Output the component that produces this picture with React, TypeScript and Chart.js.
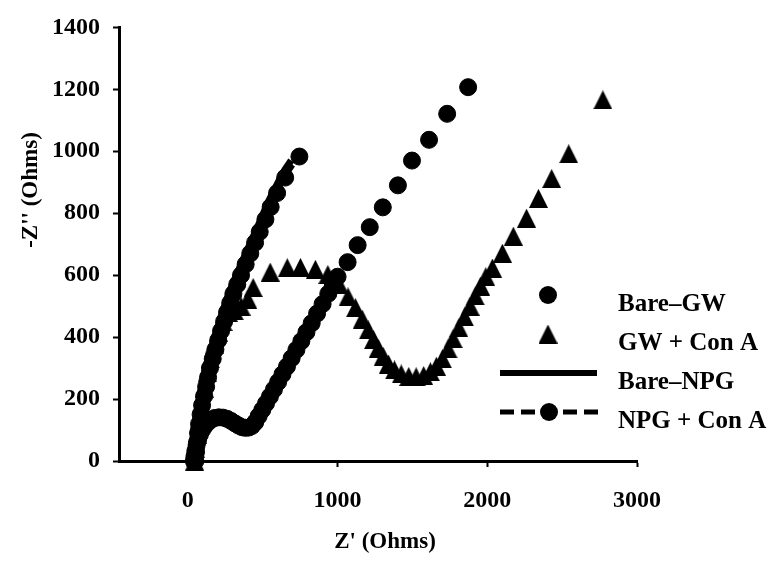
import React, { useEffect, useRef } from 'react';
import { Chart, registerables } from 'chart.js';

Chart.register(...registerables);

const FONT = '"Liberation Serif", "Times New Roman", serif';

const xTicks = [0, 1000, 2000, 3000];
const yTicks = [0, 200, 400, 600, 800, 1000, 1200, 1400];
const seriesNames = ['Bare–GW', 'GW + Con A', 'Bare–NPG', 'NPG + Con A'];
const xTitle = "Z' (Ohms)";
const yTitle = "-Z'' (Ohms)";

// Bare–GW: small arc, then the diffusion tail
const bareGwX = [40, 44, 50, 58, 68, 80, 95, 112, 132, 155, 180, 207, 235, 263, 290, 316, 340, 363, 385, 407, 428, 450, 473, 497, 522, 548, 575, 603, 632, 662, 693, 725, 758, 792, 827, 863, 900, 938, 968, 1000, 1067, 1134, 1215, 1302, 1403, 1497, 1611, 1732, 1872];
const bareGwY = [0, 15, 32, 50, 68, 85, 100, 113, 124, 133, 139, 141, 140, 136, 129, 121, 114, 109, 107, 108, 113, 125, 145, 165, 186, 208, 231, 255, 280, 305, 332, 359, 387, 416, 445, 476, 507, 540, 565, 595, 642, 697, 755, 819, 890, 970, 1037, 1121, 1207];

// GW + Con A: large arc and tail
const gwConAX = [45, 52, 62, 75, 90, 108, 128, 150, 175, 203, 235, 270, 310, 355, 400, 436, 550, 664, 752, 852, 935, 1010, 1070, 1120, 1165, 1205, 1240, 1272, 1305, 1340, 1380, 1425, 1475, 1525, 1575, 1620, 1660, 1700, 1738, 1772, 1810, 1848, 1885, 1920, 1955, 1990, 2034, 2101, 2174, 2262, 2342, 2430, 2544, 2772];
const gwConAY = [0, 40, 85, 135, 185, 235, 285, 330, 375, 415, 450, 480, 485, 500, 522, 560, 610, 624, 625, 619, 602, 570, 530, 495, 458, 423, 392, 364, 338, 313, 294, 281, 273, 272, 276, 288, 306, 330, 362, 395, 430, 465, 500, 533, 565, 595, 623, 671, 726, 784, 848, 912, 992, 1166];

// Bare–NPG: continuous line
const bareNpgX = [40, 44, 52, 68, 92, 118, 154, 192, 232, 274, 325, 378, 433, 488, 541, 598, 648, 690];
const bareNpgY = [0, 60, 120, 180, 240, 300, 360, 420, 480, 540, 600, 660, 720, 780, 840, 895, 940, 970];

// NPG + Con A: markers joined by a dashed line
const npgConAX = [50, 55, 61, 68, 75, 85, 95, 109, 122, 135, 148, 166, 184, 203, 222, 242, 262, 283, 304, 330, 355, 386, 417, 449, 480, 518, 553, 596, 650, 745];
const npgConAY = [0, 30, 60, 90, 120, 150, 180, 210, 240, 270, 300, 330, 360, 390, 420, 450, 480, 510, 540, 570, 600, 635, 670, 705, 740, 780, 820, 865, 915, 983];

const zip = (xs: number[], ys: number[]) => xs.map((x, i) => ({ x, y: ys[i] }));

function makeTriangle(w: number, h: number): HTMLCanvasElement {
  const c = document.createElement('canvas');
  c.width = w;
  c.height = h;
  const g = c.getContext('2d')!;
  g.fillStyle = '#000';
  g.beginPath();
  g.moveTo(w / 2, 0);
  g.lineTo(w, h);
  g.lineTo(0, h);
  g.closePath();
  g.fill();
  return c;
}

export default function App() {
  const ref = useRef<HTMLCanvasElement>(null);

  useEffect(() => {
    const canvas = ref.current;
    if (!canvas) return;
    const tri = makeTriangle(19, 19);

    const tickFont = { family: FONT, size: 24, weight: 'bold' as const };

    const annotations = {
      id: 'annotations',
      afterDraw(chart: Chart) {
        const ctx = chart.ctx;
        ctx.save();
        ctx.fillStyle = '#000';
        ctx.strokeStyle = '#000';

        // axis titles
        ctx.font = `bold 23px ${FONT}`;
        ctx.textAlign = 'center';
        ctx.textBaseline = 'middle';
        ctx.fillText(xTitle, 385, 542);
        ctx.save();
        ctx.translate(31, 190);
        ctx.rotate(-Math.PI / 2);
        ctx.fillText(yTitle, 0, 0);
        ctx.restore();

        // legend
        const step = 39;
        const markY = 295;
        const textY = 311;
        const cx = 548;
        for (let i = 0; i < seriesNames.length; i++) {
          const my = markY + i * step;
          if (i === 0) {
            ctx.beginPath();
            ctx.arc(cx, my, 9, 0, Math.PI * 2);
            ctx.fill();
          } else if (i === 1) {
            ctx.drawImage(tri, cx - tri.width / 2, my - tri.height / 2);
          } else if (i === 2) {
            ctx.lineWidth = 6;
            ctx.beginPath();
            ctx.moveTo(500, my);
            ctx.lineTo(597, my);
            ctx.stroke();
          } else {
            ctx.lineWidth = 5;
            ctx.setLineDash([14, 7]);
            ctx.beginPath();
            ctx.moveTo(500, my);
            ctx.lineTo(598, my);
            ctx.stroke();
            ctx.setLineDash([]);
            ctx.beginPath();
            ctx.arc(cx + 1, my, 9, 0, Math.PI * 2);
            ctx.fill();
          }
          ctx.font = `bold 25px ${FONT}`;
          ctx.textAlign = 'left';
          ctx.textBaseline = 'alphabetic';
          ctx.fillText(seriesNames[i], 618, textY + i * step);
        }
        ctx.restore();
      },
    };

    const chart = new Chart(canvas, {
      type: 'scatter',
      data: {
        datasets: [
          {
            label: seriesNames[0],
            data: zip(bareGwX, bareGwY),
            showLine: false,
            pointStyle: 'circle',
            pointRadius: 8.5,
            pointBorderWidth: 1,
            backgroundColor: '#000',
            borderColor: '#000',
            clip: false,
          },
          {
            label: seriesNames[1],
            data: zip(gwConAX, gwConAY),
            showLine: false,
            pointStyle: tri,
            pointRadius: 9.5,
            backgroundColor: '#000',
            borderColor: '#000',
            clip: false,
          },
          {
            label: seriesNames[2],
            data: zip(bareNpgX, bareNpgY),
            showLine: true,
            pointRadius: 0,
            borderWidth: 7,
            borderColor: '#000',
            backgroundColor: '#000',
            tension: 0.4,
            clip: false,
          },
          {
            label: seriesNames[3],
            data: zip(npgConAX, npgConAY),
            showLine: true,
            borderDash: [10, 6],
            borderWidth: 4,
            borderColor: '#000',
            backgroundColor: '#000',
            pointStyle: 'circle',
            pointRadius: 8.5,
            pointBorderWidth: 1,
            tension: 0.3,
            clip: false,
          },
        ],
      },
      options: {
        responsive: false,
        animation: false,
        events: [],
        layout: { padding: { left: 0, right: 140, top: 25, bottom: 0 } },
        plugins: {
          legend: { display: false },
          tooltip: { enabled: false },
          title: { display: false },
        },
        scales: {
          x: {
            type: 'linear',
            min: -460,
            max: 3000,
            afterBuildTicks: (s: any) => {
              s.ticks = xTicks.map((v) => ({ value: v }));
            },
            afterFit: (s: any) => {
              s.height = 102;
            },
            grid: { drawOnChartArea: false, drawTicks: true, tickLength: 6, tickWidth: 2, tickColor: '#000' },
            border: { display: true, color: '#000', width: 3 },
            ticks: {
              color: '#000',
              font: tickFont,
              padding: 19,
              maxRotation: 0,
              autoSkip: false,
              callback: (v: any) => String(v),
            },
          },
          y: {
            type: 'linear',
            min: 0,
            max: 1400,
            afterBuildTicks: (s: any) => {
              s.ticks = yTicks.map((v) => ({ value: v }));
            },
            afterFit: (s: any) => {
              s.width = 119;
            },
            grid: { drawOnChartArea: false, drawTicks: true, tickLength: 6, tickWidth: 2, tickColor: '#000' },
            border: { display: true, color: '#000', width: 3 },
            ticks: {
              color: '#000',
              font: tickFont,
              padding: 13,
              autoSkip: false,
              callback: (v: any) => String(v),
            },
          },
        },
      },
      plugins: [annotations],
    });

    return () => chart.destroy();
  }, []);

  return (
    <div style={{ position: 'fixed', left: 0, top: 0, width: 777, height: 563, background: '#fff' }}>
      <canvas ref={ref} width={777} height={563} style={{ display: 'block' }} />
    </div>
  );
}
